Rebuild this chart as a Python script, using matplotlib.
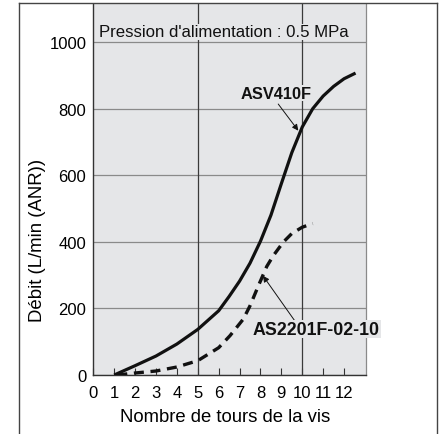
import matplotlib
matplotlib.use("Agg")
import matplotlib.pyplot as plt
from matplotlib.lines import Line2D

plt.rcParams['font.family'] = ['Liberation Sans', 'DejaVu Sans']

# Data
asv_x = [1.0, 2.0, 3.0, 4.0, 5.0, 6.0, 6.5, 7.0, 7.5, 8.0, 8.5, 9.0, 9.5, 10.0, 10.5, 11.0, 11.5, 12.0, 12.55]
asv_y = [0, 28, 57, 93, 137, 193, 236, 282, 336, 402, 480, 575, 668, 745, 800, 838, 867, 890, 907]

as2_x = [1.15, 2.0, 3.0, 4.0, 4.63, 5.0, 5.59, 6.0, 6.54, 7.18, 7.5, 7.9, 8.3, 8.62, 9.09, 9.5, 10.0, 10.5]
as2_y = [0, 6, 12, 24, 36, 43, 66, 82, 118, 168, 208, 268, 326, 359, 399, 425, 444, 455]

x_ticks = list(range(0, 13))
y_ticks = [0, 200, 400, 600, 800, 1000]
x_major_lines = [5, 10]

title_note = "Pression d'alimentation : 0.5 MPa"
label_asv = "ASV410F"
label_as2 = "AS2201F-02-10"
xlabel = "Nombre de tours de la vis"
ylabel = "Débit (L/min (ANR))"

W, H = 446, 435
BG = '#e5e6e8'
fig = plt.figure(figsize=(W / 100, H / 100), dpi=100)
ax = fig.add_axes([93.3 / W, 1 - 376 / H, (366 - 93.3) / W, (376 - 4.5) / H])
ax.set_facecolor(BG)

ax.set_xlim(0, 13.05)
ax.set_ylim(0, 1116)

ax.set_yticks(y_ticks)
ax.set_xticks(x_ticks)
ax.yaxis.grid(True, color='#8a8a8a', lw=0.9)
for xv in x_major_lines:
    ax.axvline(xv, color='#3a3a3a', lw=0.9, zorder=1)
ax.set_axisbelow(True)

ax.tick_params(axis='x', direction='in', length=5, width=0.8, color='#333333',
               labelsize=12, pad=7)
ax.tick_params(axis='y', length=0, labelsize=12, pad=5)

for side in ['left', 'bottom']:
    ax.spines[side].set_color('#333333')
    ax.spines[side].set_linewidth(1.0)
ax.spines['right'].set_color('#8a8a8a')
ax.spines['right'].set_linewidth(0.9)
ax.spines['top'].set_visible(False)

ax.plot(asv_x, asv_y, color='#111111', lw=2.3, solid_capstyle='butt', zorder=3)
ax.plot(as2_x, as2_y, color='#111111', lw=2.4, dashes=[3.0, 2.0], zorder=3)

ax.text(0.27, 1031, title_note, fontsize=12.1, ha='left', va='center', color='#111111',
        zorder=5, bbox=dict(facecolor=BG, edgecolor='none', pad=0.5))

ax.annotate('', xy=(9.81, 734), xytext=(8.85, 814),
            arrowprops=dict(arrowstyle='-|>', lw=0.7, color='#111111',
                            mutation_scale=9, shrinkA=0, shrinkB=0), zorder=4)
ax.text(8.74, 847, label_asv, fontsize=11.8, fontweight='bold', ha='center', va='center',
        color='#111111', zorder=5, bbox=dict(facecolor=BG, edgecolor='none', pad=0.5))

ax.annotate('', xy=(8.12, 298), xytext=(9.65, 162),
            arrowprops=dict(arrowstyle='-|>', lw=0.7, color='#111111',
                            mutation_scale=9, shrinkA=0, shrinkB=0), zorder=4)
ax.text(10.68, 138, label_as2, fontsize=12.8, fontweight='bold', ha='center', va='center',
        color='#111111', zorder=5, bbox=dict(facecolor=BG, edgecolor='none', pad=0.5))

ax.set_xlabel(xlabel, fontsize=13.3)
ax.set_ylabel(ylabel, fontsize=13.4)
ax.xaxis.set_label_coords((225.5 - 93.3) / (366 - 93.3), -(409 - 376) / (376 - 4.5))
ax.yaxis.set_label_coords(-(93.3 - 46) / (366 - 93.3), (376 - 240) / (376 - 4.5))

# outer frame
fc = '#444444'
fig.add_artist(Line2D([19 / W, 19 / W], [0, 1 - 4 / H], color=fc, lw=1.0))
fig.add_artist(Line2D([437 / W, 437 / W], [0, 1 - 4 / H], color=fc, lw=1.0))
fig.add_artist(Line2D([19 / W, 437 / W], [1 - 4 / H, 1 - 4 / H], color=fc, lw=1.0))

fig.savefig('out.png', dpi=100)
